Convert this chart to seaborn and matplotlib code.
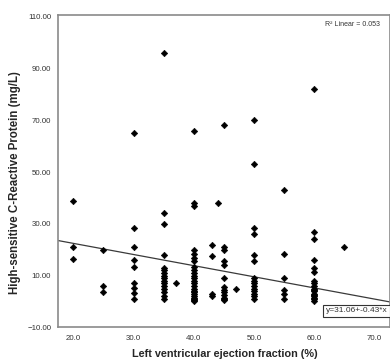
import matplotlib.pyplot as plt
import numpy as np
import pandas as pd
import seaborn as sns

sns.set_style("white")
plt.rcParams["font.family"] = ["Liberation Sans", "DejaVu Sans"]

# LVEF (%) per patient
ef_pct = (
    [20] * 3
    + [25] * 3
    + [30] * 9
    + [35] * 16
    + [37]
    + [40] * 24
    + [43] * 4
    + [44]
    + [45] * 13
    + [47]
    + [50] * 15
    + [55] * 6
    + [60] * 18
    + [65]
)

# hs-CRP (mg/L), same order as ef_pct
hs_crp = (
    [39, 21, 16.5]
    + [20, 6, 3.5]
    + [65, 28.5, 21, 16, 13.5, 7.3, 5.3, 3.2, 1.1]
    + [96, 34, 30, 18, 13, 12, 11, 10, 9, 8, 7, 6, 5, 3.5, 2, 1]
    + [7]
    + [66, 38, 37, 20, 18.5, 17, 15.5, 13.5, 12, 11, 10, 9, 8, 7, 6, 5,
       4, 3.5, 3, 2, 1.5, 1, 0.5, 0.3]
    + [22, 17.5, 3, 2]
    + [38]
    + [68, 21, 20, 15.5, 14, 9, 5.5, 4.5, 3.5, 2.5, 1.5, 1, 0.5]
    + [5]
    + [70, 53, 28.3, 26, 18, 15.5, 9, 8, 7, 6, 5, 4, 3, 2, 1]
    + [43, 18.4, 9, 4.5, 2.8, 1]
    + [82, 27, 24, 16, 13, 11.3, 8, 7, 6, 5, 4.5, 4, 3, 2.5, 2, 1.5, 1, 0.3]
    + [21]
)

fit_intercept = 31.06
fit_slope = -0.43
r_squared = 0.053

df = pd.DataFrame({"ef": ef_pct, "crp": hs_crp})

fig = plt.figure(figsize=(3.9, 3.63), dpi=100)
ax = fig.add_axes([0.1495, 0.098, 0.8505, 0.861])

sns.scatterplot(data=df, x="ef", y="crp", marker="D", s=11,
                color="black", edgecolor="black", linewidth=0.4, ax=ax, zorder=3)

xlim = (17.5, 72.6)
line_x = np.array(xlim)
ax.plot(line_x, fit_intercept + fit_slope * line_x, color="#3a3a3a", lw=0.9, zorder=2)

ax.set_xlim(*xlim)
ax.set_ylim(-10, 110.7)
ax.set_xticks([20, 30, 40, 50, 60, 70])
ax.set_yticks([-10, 10, 30, 50, 70, 90, 110])
ax.xaxis.set_major_formatter("{x:.1f}")
ax.yaxis.set_major_formatter("{x:.2f}")
ax.tick_params(direction="out", length=3.6, width=0.8, color="#808080",
               labelsize=5.7, labelcolor="#333333", pad=1.5)
for sp in ax.spines.values():
    sp.set_color("#8a8a8a")
    sp.set_linewidth(1.2)

ax.set_xlabel("Left ventricular ejection fraction (%)", fontsize=7.85,
              fontweight="bold")
ax.set_ylabel("High-sensitive C-Reactive Protein (mg/L)", fontsize=8.3,
              fontweight="bold")
ax.xaxis.set_label_coords(0.5026, -0.069)
ax.yaxis.set_label_coords(-0.113, 0.464)

ax.text(0.97, 0.968, f"R\u00b2 Linear = {r_squared:.3f}", transform=ax.transAxes,
        ha="right", va="center", fontsize=5, color="#333333")
ax.text(0.807, 0.053, f"y={fit_intercept:.2f}+{fit_slope:.2f}*x", transform=ax.transAxes,
        ha="left", va="center", fontsize=6, color="#333333",
        bbox=dict(boxstyle="square,pad=0.3", fc="white", ec="#333333", lw=0.8), zorder=4)

fig.savefig("out.png", dpi=100)
